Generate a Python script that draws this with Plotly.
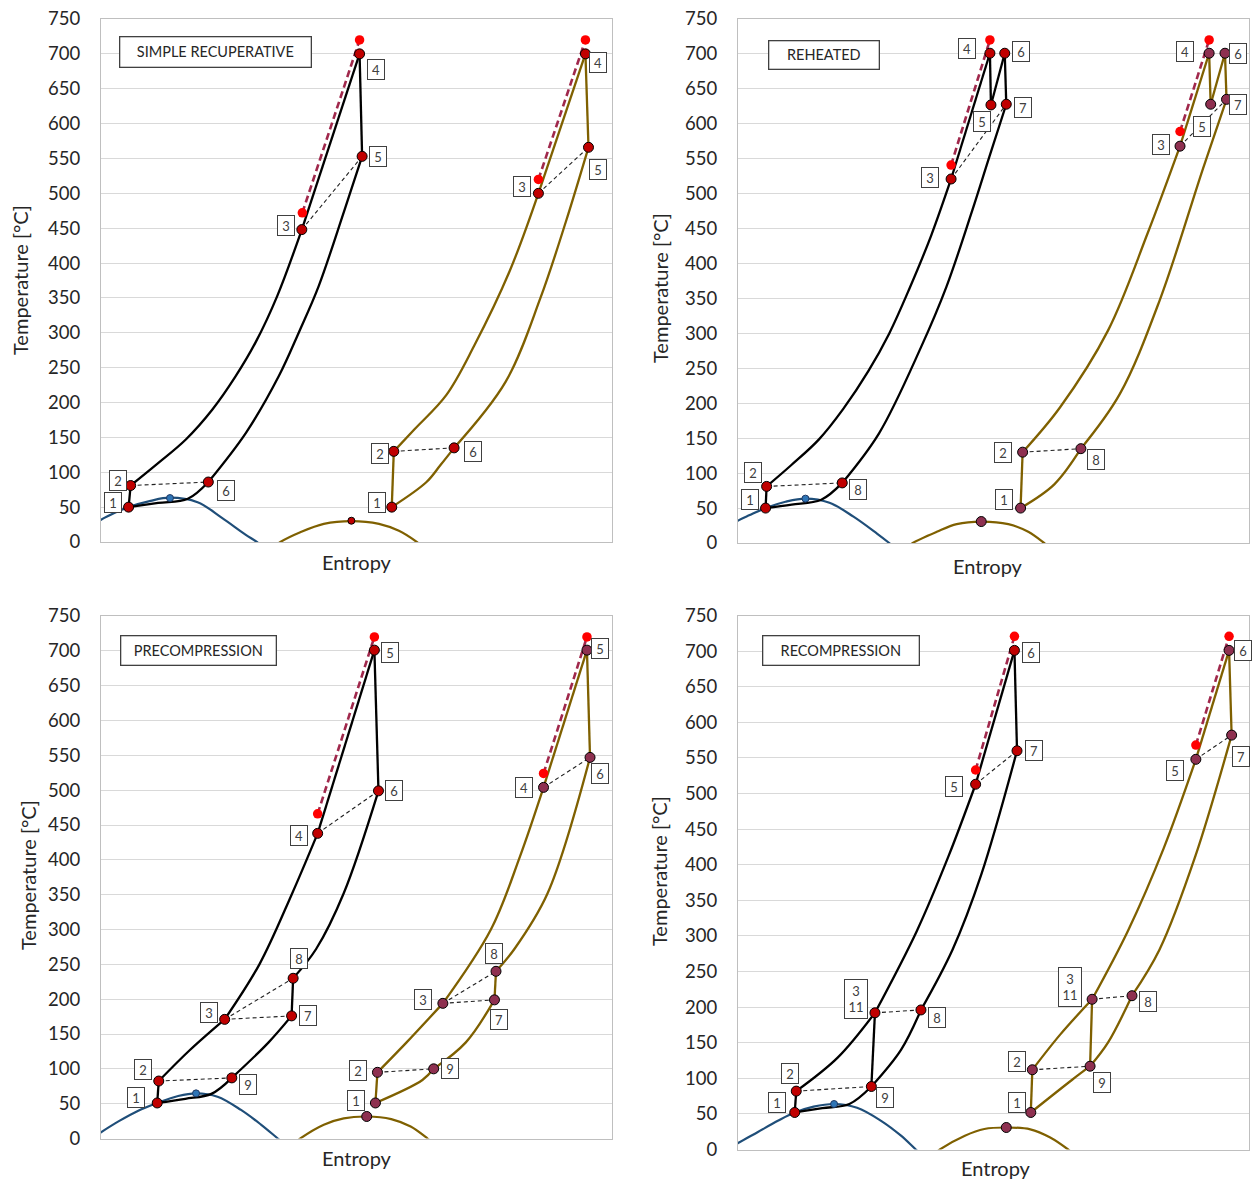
import plotly.graph_objects as go

W, H = 1254, 1180

# ======================= DATA =======================
# Entropy axis is unlabeled: arbitrary 0..100 scale per panel. Temperature in degC.

# ---------- Panel 1: SIMPLE RECUPERATIVE ----------
P1_TITLE = "SIMPLE RECUPERATIVE"
P1_A_LBL = ["1", "2", "3", "4", "5", "6"]
P1_A_S = [5.4, 5.8, 39.3, 50.6, 51.1, 21.0]
P1_A_T = [50, 81, 448, 700, 553, 86]
P1_A_PATHS = [
    ("1", "2", []),
    ("2", "3", [(11.0, 112), (16.6, 147), (21.8, 190), (26.2, 236), (30.3, 287), (34.5, 353)]),
    ("3", "4", []),
    ("4", "5", []),
    ("5", "6", [(47.6, 475), (42.6, 367), (38.8, 302), (34.8, 238), (28.4, 157)]),
    ("6", "1", [(17.0, 62), (11.2, 56)]),
]
P1_A_RECUP = [("3", "5"), ("2", "6")]
P1_A_ISEN_S = [39.4, 50.6]
P1_A_ISEN_T = [472, 720]

P1_B_LBL = ["1", "2", "3", "4", "5", "6"]
P1_B_S = [56.9, 57.3, 85.6, 94.8, 95.4, 69.1]
P1_B_T = [50, 130, 500, 700, 566, 135]
P1_B_PATHS = [
    ("1", "2", []),
    ("2", "3", [(61.4, 162), (67.6, 211), (73.0, 281), (80.0, 389)]),
    ("3", "4", []),
    ("4", "5", []),
    ("5", "6", [(91.0, 460), (86.0, 350), (79.2, 230)]),
    ("6", "1", [(66.4, 110), (63.7, 86)]),
]
P1_B_RECUP = [("3", "5"), ("2", "6")]
P1_B_ISEN_S = [85.6, 94.8]
P1_B_ISEN_T = [520, 720]

P1_DOME_A_S = [-2.0, 0.0, 2.7, 5.4, 9.7, 13.5, 18.9, 23.6, 28.2, 30.5, 31.5]
P1_DOME_A_T = [22, 32, 42, 50, 59, 63.5, 57, 35, 11, 0, -6]
P1_DOME_A_CP = (13.5, 63)
P1_DOME_B_S = [34.0, 35.1, 39.0, 43.6, 49.0, 54.4, 58.3, 61.8, 62.8]
P1_DOME_B_T = [-6, 0, 14, 26, 30, 26, 16, 0, -6]
P1_DOME_B_CP = (49.0, 30.5)

# ---------- Panel 2: REHEATED ----------
P2_TITLE = "REHEATED"
P2_A_LBL = ["1", "2", "3", "4", "5", "6", "7", "8"]
P2_A_S = [5.4, 5.6, 41.7, 49.3, 49.5, 52.2, 52.5, 20.4]
P2_A_T = [50, 81, 521, 701, 627, 701, 628, 86]
P2_A_PATHS = [
    ("1", "2", []),
    ("2", "3", [(10.5, 112), (15.8, 148), (20.6, 192), (25.5, 246), (29.6, 300), (33.6, 365), (37.8, 440)]),
    ("3", "4", []),
    ("4", "5", []),
    ("5", "6", []),
    ("6", "7", []),
    ("7", "8", [(49.2, 553), (45.8, 475), (40.8, 367), (35.8, 280), (27.6, 157)]),
    ("8", "1", [(16.3, 62), (10.5, 55)]),
]
P2_A_RECUP = [("3", "7"), ("2", "8")]
P2_A_ISEN_S = [41.7, 49.3]
P2_A_ISEN_T = [541, 720]

P2_B_LBL = ["1", "2", "3", "4", "5", "6", "7", "8"]
P2_B_S = [55.3, 55.7, 86.5, 92.2, 92.5, 95.3, 95.6, 67.1]
P2_B_T = [50, 130, 568, 701, 628, 701, 635, 135]
P2_B_PATHS = [
    ("1", "2", []),
    ("2", "3", [(63.0, 194), (72.4, 304), (80.2, 444)]),
    ("3", "4", []),
    ("4", "5", []),
    ("5", "6", []),
    ("6", "7", []),
    ("7", "8", [(91.0, 536), (82.5, 347), (74.7, 213)]),
    ("8", "1", [(61.9, 84)]),
]
P2_B_RECUP = [("3", "7"), ("2", "8")]
P2_B_ISEN_S = [86.5, 92.2]
P2_B_ISEN_T = [589, 720]

P2_DOME_A_S = [-2.0, 0.0, 2.3, 5.4, 9.3, 13.2, 17.9, 22.6, 27.2, 29.6, 30.6]
P2_DOME_A_T = [22, 32, 40, 50, 59, 63.5, 57.6, 37.7, 13.5, 0, -6]
P2_DOME_A_CP = (13.2, 63.5)
P2_DOME_B_S = [33.2, 34.2, 38.9, 42.8, 47.6, 52.9, 56.8, 59.9, 60.9]
P2_DOME_B_T = [-6, 0, 16, 27, 30.7, 27, 16, 0, -6]
P2_DOME_B_CP = (47.6, 30.7)

# ---------- Panel 3: PRECOMPRESSION ----------
P3_TITLE = "PRECOMPRESSION"
P3_A_LBL = ["1", "2", "3", "4", "5", "6", "7", "8", "9"]
P3_A_S = [11.0, 11.3, 24.2, 42.4, 53.5, 54.3, 37.3, 37.6, 25.6]
P3_A_T = [51, 82.5, 171, 438, 701, 499, 176, 230, 87]
P3_A_PATHS = [
    ("1", "2", []),
    ("2", "3", [(17.4, 127)]),
    ("3", "4", [(31.0, 250), (37.3, 350)]),
    ("4", "5", []),
    ("5", "6", []),
    ("6", "8", [(47.5, 352), (42.1, 272)]),
    ("8", "7", []),
    ("7", "9", [(32.8, 138)]),
    ("9", "1", [(21.6, 64), (16.5, 57)]),
]
P3_A_RECUP = [("4", "6"), ("3", "8"), ("3", "7"), ("2", "9")]
P3_A_ISEN_S = [42.4, 53.5]
P3_A_ISEN_T = [466, 720]

P3_B_LBL = ["1", "2", "3", "4", "5", "6", "7", "8", "9"]
P3_B_S = [53.7, 54.1, 66.9, 86.6, 95.1, 95.7, 77.0, 77.3, 65.1]
P3_B_T = [51, 95, 194, 504, 701, 547, 199, 240, 100]
P3_B_PATHS = [
    ("1", "2", []),
    ("2", "3", [(59.8, 138)]),
    ("3", "4", [(76.3, 300), (82.0, 405)]),
    ("4", "5", []),
    ("5", "6", []),
    ("6", "8", [(87.4, 352), (80.9, 272)]),
    ("8", "7", []),
    ("7", "9", [(71.4, 138)]),
    ("9", "1", [(62.9, 84)]),
]
P3_B_RECUP = [("4", "6"), ("3", "8"), ("3", "7"), ("2", "9")]
P3_B_ISEN_S = [86.6, 95.1]
P3_B_ISEN_T = [524, 720]

P3_DOME_A_S = [-1.0, 0.0, 3.5, 7.3, 11.0, 15.1, 18.6, 22.8, 27.4, 31.3, 34.6, 35.6]
P3_DOME_A_T = [4, 9, 25, 40, 51, 61, 64.8, 60, 41, 20, 0, -6]
P3_DOME_A_CP = (18.6, 64.8)
P3_DOME_B_S = [38.0, 39.0, 43.6, 47.5, 52.0, 56.8, 60.6, 63.9, 64.9]
P3_DOME_B_T = [-6, 0, 19.8, 28.9, 31.6, 27.9, 17.1, 0, -6]
P3_DOME_B_CP = (52.0, 31.6)

# ---------- Panel 4: RECOMPRESSION ----------
P4_TITLE = "RECOMPRESSION"
P4_A_LBL = ["1", "2", "3\n11", "5", "6", "7", "8", "9"]
P4_A_S = [11.1, 11.4, 26.8, 46.5, 54.1, 54.6, 35.8, 26.1]
P4_A_T = [52, 82, 192, 513, 701, 560, 196, 88.5]
P4_A_PATHS = [
    ("1", "2", []),
    ("2", "3\n11", [(19.5, 129)]),
    ("3\n11", "5", [(35.0, 307), (41.2, 412)]),
    ("5", "6", []),
    ("6", "7", []),
    ("7", "8", [(47.6, 386), (42.0, 281)]),
    ("8", "9", [(31.9, 140)]),
    ("9", "1", [(21.8, 64), (16.5, 58)]),
    ("9", "3\n11", []),
]
P4_A_RECUP = [("5", "7"), ("3\n11", "8"), ("2", "9")]
P4_A_ISEN_S = [46.5, 54.1]
P4_A_ISEN_T = [533, 720.7]

P4_B_LBL = ["1", "2", "3\n11", "5", "6", "7", "8", "9"]
P4_B_S = [57.3, 57.6, 69.3, 89.6, 96.1, 96.6, 77.1, 68.9]
P4_B_T = [52, 112, 211, 548, 701, 582, 216, 117]
P4_B_PATHS = [
    ("1", "2", []),
    ("2", "3\n11", [(63.0, 161)]),
    ("3\n11", "5", [(76.3, 307), (83.3, 423)]),
    ("5", "6", []),
    ("6", "7", []),
    ("7", "8", [(89.5, 412), (82.5, 281)]),
    ("8", "9", [(72.4, 150)]),
    ("9", "1", [(65.4, 98)]),
    ("9", "3\n11", []),
]
P4_B_RECUP = [("5", "7"), ("3\n11", "8"), ("2", "9")]
P4_B_ISEN_S = [89.6, 96.1]
P4_B_ISEN_T = [568, 720.7]

P4_DOME_A_S = [-1.0, 0.0, 3.9, 7.8, 11.1, 14.8, 18.8, 23.3, 28.0, 31.9, 34.8, 35.8]
P4_DOME_A_T = [4, 8.9, 24.6, 40.3, 51.9, 60.2, 63.9, 58.7, 40.3, 19.4, 0, -6]
P4_DOME_A_CP = (18.8, 63.9)
P4_DOME_B_S = [38.5, 39.5, 44.4, 48.2, 52.5, 57.2, 61.1, 64.6, 65.6]
P4_DOME_B_T = [-6, 0, 19.4, 28.8, 30.9, 28.3, 16.8, 0, -6]
P4_DOME_B_CP = (52.5, 30.9)

Y_TICKS = list(range(0, 751, 50))

# ======================= STYLE / LAYOUT =======================
FONT = "Lato, 'Open Sans', sans-serif"
BLACK = "#000000"
BROWN = "#7F6000"
BLUE = "#1F4E79"
ISEN = "#A0284C"
RED_DOT = "#FF0000"
MK_DARK = "#C00000"
MK_MAROON = "#8E3050"

# plot areas in pixels: (left, right, top, bottom)
PANEL_PX = [
    (101, 612, 19, 542),
    (738, 1249, 19, 543),
    (101, 612, 616, 1138.5),
    (738, 1249, 615.5, 1149.5),
]
# title box: (s, T) center, width, height
TITLE_POS = [(22.5, 702, 188, 27), (16.8, 699, 107, 25), (19.1, 701, 152, 26), (20.2, 701, 153, 26)]
YTITLE_PX = [(20, 280), (660, 288), (28, 875), (659, 871)]
XTITLE_PX = [(357, 562), (988, 566), (357, 1158), (996, 1168)]

OFF = {
    (1, "A"): [(-16, 4.5), (-13, 5), (-16, 4.5), (16.5, -16), (16, 0), (18, -8)],
    (1, "B"): [(-14.5, 4.5), (-14, -2), (-16, 7), (12.5, -9), (10, -22), (19, -4)],
    (2, "A"): [(-16, 9), (-14, 14), (-21, 1), (-22.5, 5), (-9, -17), (16.5, 2), (16.5, -3.5), (16, -6.5)],
    (2, "B"): [(-17, 9), (-20, 0), (-19, 1.5), (-24, 2), (-8.5, -22), (13, 0), (11.5, -5), (15, -11)],
    (3, "A"): [(-21, 5), (-15.5, 12), (-16, 7), (-19, -2), (16, -2), (16, 0), (16.5, 0), (6, 20), (16, -7)],
    (3, "B"): [(-19, 2), (-19.5, 2), (-20, 4), (-20, 0), (13, 2), (10, -16.5), (4.5, -19.5), (-2.5, 17.5), (16.5, 0)],
    (4, "A"): [(-17.5, 10), (-6.5, 17.5), (-19, 13.5), (-22, -2), (16.5, -2), (16.5, 0), (16, -8), (14, -11.5)],
    (4, "B"): [(-14, 10), (-15, 8), (-22, 12), (-20.5, -11.5), (14, 0), (9, -21), (16, -6), (12, -16)],
}

PANELS = [
    dict(title=P1_TITLE,
         A=(P1_A_LBL, P1_A_S, P1_A_T, P1_A_PATHS, P1_A_RECUP, P1_A_ISEN_S, P1_A_ISEN_T),
         B=(P1_B_LBL, P1_B_S, P1_B_T, P1_B_PATHS, P1_B_RECUP, P1_B_ISEN_S, P1_B_ISEN_T),
         domeA=(P1_DOME_A_S, P1_DOME_A_T, P1_DOME_A_CP), domeB=(P1_DOME_B_S, P1_DOME_B_T, P1_DOME_B_CP),
         mkB=MK_DARK, cpB_size=7),
    dict(title=P2_TITLE,
         A=(P2_A_LBL, P2_A_S, P2_A_T, P2_A_PATHS, P2_A_RECUP, P2_A_ISEN_S, P2_A_ISEN_T),
         B=(P2_B_LBL, P2_B_S, P2_B_T, P2_B_PATHS, P2_B_RECUP, P2_B_ISEN_S, P2_B_ISEN_T),
         domeA=(P2_DOME_A_S, P2_DOME_A_T, P2_DOME_A_CP), domeB=(P2_DOME_B_S, P2_DOME_B_T, P2_DOME_B_CP),
         mkB=MK_MAROON, cpB_size=10),
    dict(title=P3_TITLE,
         A=(P3_A_LBL, P3_A_S, P3_A_T, P3_A_PATHS, P3_A_RECUP, P3_A_ISEN_S, P3_A_ISEN_T),
         B=(P3_B_LBL, P3_B_S, P3_B_T, P3_B_PATHS, P3_B_RECUP, P3_B_ISEN_S, P3_B_ISEN_T),
         domeA=(P3_DOME_A_S, P3_DOME_A_T, P3_DOME_A_CP), domeB=(P3_DOME_B_S, P3_DOME_B_T, P3_DOME_B_CP),
         mkB=MK_MAROON, cpB_size=10),
    dict(title=P4_TITLE,
         A=(P4_A_LBL, P4_A_S, P4_A_T, P4_A_PATHS, P4_A_RECUP, P4_A_ISEN_S, P4_A_ISEN_T),
         B=(P4_B_LBL, P4_B_S, P4_B_T, P4_B_PATHS, P4_B_RECUP, P4_B_ISEN_S, P4_B_ISEN_T),
         domeA=(P4_DOME_A_S, P4_DOME_A_T, P4_DOME_A_CP), domeB=(P4_DOME_B_S, P4_DOME_B_T, P4_DOME_B_CP),
         mkB=MK_MAROON, cpB_size=10),
]

fig = go.Figure()
annotations = []
layout_axes = {}


def line_trace(xs, ys, xa, ya, color, width, dash=None, shape="linear"):
    return go.Scatter(x=xs, y=ys, mode="lines", xaxis=xa, yaxis=ya,
                      line=dict(color=color, width=width, dash=dash, shape=shape, smoothing=1.0),
                      hoverinfo="skip", showlegend=False)


for k, P in enumerate(PANELS):
    n = k + 1
    xa = "x" if n == 1 else f"x{n}"
    ya = "y" if n == 1 else f"y{n}"
    l, r, t, b = PANEL_PX[k]
    layout_axes["xaxis" if n == 1 else f"xaxis{n}"] = dict(
        domain=[l / W, r / W], range=[0, 100], anchor=ya, automargin=False,
        showgrid=False, showticklabels=False, ticks="", zeroline=False,
        showline=True, mirror=True, linecolor="#BFBFBF", linewidth=1, fixedrange=True)
    layout_axes["yaxis" if n == 1 else f"yaxis{n}"] = dict(
        domain=[1 - b / H, 1 - t / H], range=[0, 750], anchor=xa, automargin=False,
        tickmode="array", tickvals=Y_TICKS, ticktext=[str(v) for v in Y_TICKS],
        showgrid=True, gridcolor="#D9D9D9", gridwidth=1, zeroline=False,
        showline=True, mirror=True, linecolor="#BFBFBF", linewidth=1, ticks="",
        ticklabelstandoff=16,
        tickfont=dict(family=FONT, size=18.5, color="#262626"), fixedrange=True)

    # saturation domes
    dS, dT, dcp = P["domeA"]
    fig.add_trace(line_trace(dS, dT, xa, ya, BLUE, 2.2, shape="spline"))
    dS2, dT2, dcp2 = P["domeB"]
    fig.add_trace(line_trace(dS2, dT2, xa, ya, BROWN, 2.2, shape="spline"))

    cyc_markers = []
    for key, lc, mk in (("A", BLACK, MK_DARK), ("B", BROWN, P["mkB"])):
        lbl, S, T, paths, recup, isS, isT = P[key]

        def pt(name):
            i = lbl.index(name)
            return S[i], T[i]

        for a, bb, mid in paths:
            p0, p1 = pt(a), pt(bb)
            xs = [p0[0]] + [m[0] for m in mid] + [p1[0]]
            ys = [p0[1]] + [m[1] for m in mid] + [p1[1]]
            fig.add_trace(line_trace(xs, ys, xa, ya, lc, 2.3, shape="spline" if mid else "linear"))
        for a, bb in recup:
            p0, p1 = pt(a), pt(bb)
            fig.add_trace(line_trace([p0[0], p1[0]], [p0[1], p1[1]], xa, ya, "#202020", 1.1, dash="4px,3px"))
        fig.add_trace(line_trace(isS, isT, xa, ya, ISEN, 2.6, dash="7px,4px"))
        cyc_markers.append((S, T, mk, isS, isT))

        for i, name in enumerate(lbl):
            dx, dy = OFF[(n, key)][i]
            multi = "\n" in name
            annotations.append(dict(
                x=S[i], y=T[i], xref=xa, yref=ya, xshift=dx, yshift=dy,
                text=name.replace("\n", "<br>"), showarrow=False,
                font=dict(family=FONT, size=13, color="#404040"),
                bgcolor="white", bordercolor="#404040", borderwidth=1, borderpad=1,
                width=20 if multi else 14, height=36 if multi else 17,
                align="center", valign="middle"))

    # critical points
    fig.add_trace(go.Scatter(x=[dcp[0]], y=[dcp[1]], mode="markers", xaxis=xa, yaxis=ya,
                             marker=dict(size=7, color="#2E75B6", line=dict(color="#1F3864", width=1)),
                             hoverinfo="skip", showlegend=False))
    fig.add_trace(go.Scatter(x=[dcp2[0]], y=[dcp2[1]], mode="markers", xaxis=xa, yaxis=ya,
                             marker=dict(size=P["cpB_size"], color=P["mkB"], line=dict(color="#000000", width=1)),
                             hoverinfo="skip", showlegend=False))
    # red ideal dots and state points
    for S, T, mk, isS, isT in cyc_markers:
        fig.add_trace(go.Scatter(x=isS, y=isT, mode="markers", xaxis=xa, yaxis=ya,
                                 marker=dict(size=9.5, color=RED_DOT, line=dict(width=0)),
                                 hoverinfo="skip", showlegend=False))
        fig.add_trace(go.Scatter(x=S, y=T, mode="markers", xaxis=xa, yaxis=ya,
                                 marker=dict(size=10, color=mk, line=dict(color="#000000", width=1)),
                                 hoverinfo="skip", showlegend=False))

    # title box
    tx, ty, tw, th = TITLE_POS[k]
    annotations.append(dict(
        x=tx, y=ty, xref=xa, yref=ya, text=P["title"], showarrow=False,
        font=dict(family=FONT, size=14.5, color="#262626"),
        bgcolor="white", bordercolor="#404040", borderwidth=1.3, borderpad=1,
        width=tw, height=th, align="center", valign="middle"))

    # axis titles
    yx, yy = YTITLE_PX[k]
    annotations.append(dict(x=yx / W, y=1 - yy / H, xref="paper", yref="paper",
                            text="Temperature [°C]", textangle=-90, showarrow=False,
                            font=dict(family=FONT, size=20, color="#262626"),
                            xanchor="center", yanchor="middle"))
    ex, ey = XTITLE_PX[k]
    annotations.append(dict(x=ex / W, y=1 - ey / H, xref="paper", yref="paper",
                            text="Entropy", showarrow=False,
                            font=dict(family=FONT, size=20, color="#262626"),
                            xanchor="center", yanchor="middle"))

fig.update_layout(
    width=W, height=H, margin=dict(l=0, r=0, t=0, b=0, autoexpand=False),
    paper_bgcolor="white", plot_bgcolor="white",
    showlegend=False, annotations=annotations, **layout_axes)

fig.write_html("out.html")
